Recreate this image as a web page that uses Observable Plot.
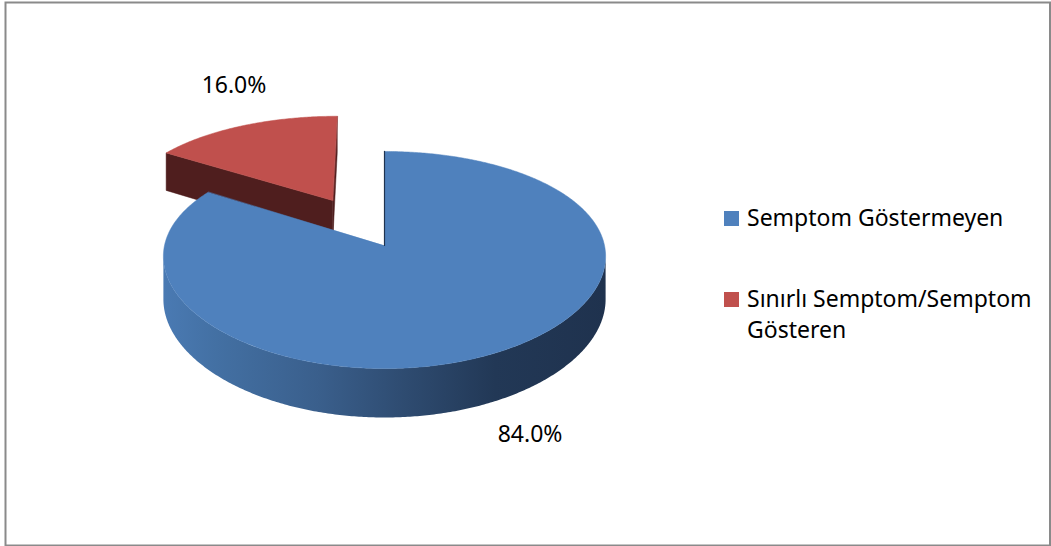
<!DOCTYPE html>
<html>
<head>
<meta charset="utf-8">
<script src="https://cdn.jsdelivr.net/npm/d3@7"></script>
<script src="https://cdn.jsdelivr.net/npm/@observablehq/plot@0.6"></script>
<style>
  body { margin: 0; background: #fff; font-family: "Noto Sans", sans-serif; }
  #wrap { position: relative; width: 1051px; height: 546px; }
  #legend { position: absolute; left: 724px; top: 202px; width: 310px; font-size: 23px; line-height: 31px; color: #000; }
  .item { display: flex; align-items: flex-start; }
  .item + .item { margin-top: 50px; }
  .sw { width: 15px; height: 15px; flex: none; margin-top: 9px; margin-right: 8px; }
</style>
</head>
<body>
<div id="wrap"></div>
<script>
// ---- data ----
const categories = ["Semptom Göstermeyen", "Sınırlı Semptom/Semptom Gösteren"];
const values = [84.0, 16.0];
const labels = values.map(v => v.toFixed(1) + "%");

// ---- styling / layout ----
const W = 1051, Hgt = 546;
const CX = 384, CY = 245, RX = 220, RY = 106.6;   // screen placement of the pie centre and radii
const K = 0.1336;      // perspective strength (vertical)
const KX = 0.1;        // perspective strength (horizontal)
const DEPTH = 0.398;   // pie thickness (model units)
const topColors = ["#4F81BD", "#C0504D"];
const faceColors = ["#1F3350", "#4F1E1E"];
const explode = [0, 0.51];
const LABEL_R = 1.54, LABEL_PULL = 0.75;

const proj = (u, v, z) => ({ px: u / (1 - KX * v), py: (v + z * DEPTH) / (1 - K * v) });

const arcs = d3.pie().sort(null).value(d => d)(values);
const slices = arcs.map((a, i) => {
  const mid = (a.startAngle + a.endAngle) / 2;
  const e = explode[i];
  return { ...a, i, mid, cu: e * Math.sin(mid), cv: -e * Math.cos(mid) };
});

const pt = (s, r, ang, z) => proj(s.cu + r * Math.sin(ang), s.cv - r * Math.cos(ang), z);
function arcPts(s, a0, a1, z) {
  const n = Math.max(2, Math.ceil(Math.abs(a1 - a0) / 0.01));
  return d3.range(n + 1).map(j => pt(s, 1, a0 + (a1 - a0) * j / n, z));
}
function area(poly) {
  let A = 0;
  for (let j = 0; j < poly.length; j++) {
    const p = poly[j], q = poly[(j + 1) % poly.length];
    A += p.px * q.py - q.px * p.py;
  }
  return A;
}

const marks = [];
// silhouette angles for the outer wall
const sil0 = Math.acos(-KX), sil1 = 2 * Math.PI - Math.acos(-KX);

const order = [...slices].sort((a, b) => a.cv - b.cv);
for (const s of order) {
  const c0 = pt(s, 0, 0, 0), c1 = pt(s, 0, 0, 1);
  // radial cut faces
  for (const [ang, sign] of [[s.startAngle, -1], [s.endAngle, 1]]) {
    const poly = [c0, pt(s, 1, ang, 0), pt(s, 1, ang, 1), c1];
    if (sign * area(poly) > 0) {
      marks.push(Plot.line(poly, { x: "px", y: "py", curve: "linear-closed", fill: faceColors[s.i], stroke: faceColors[s.i], strokeWidth: 0.5 }));
    }
  }
  // outer wall
  const a0 = Math.max(s.startAngle, sil0), a1 = Math.min(s.endAngle, sil1);
  if (a1 > a0) {
    const wall = [...arcPts(s, a0, a1, 0), ...arcPts(s, a0, a1, 1).reverse()];
    marks.push(Plot.line(wall, { x: "px", y: "py", curve: "linear-closed", fill: `url(#wallGrad${s.i})`, stroke: "none" }));
  }
  // top face
  const top = [c0, ...arcPts(s, s.startAngle, s.endAngle, 0)];
  marks.push(Plot.line(top, { x: "px", y: "py", curve: "linear-closed", fill: topColors[s.i], stroke: topColors[s.i], strokeWidth: 0.5 }));
}
// edge-on cut of the large slice
const big = slices[0];
marks.push(Plot.line([pt(big, 0, 0, 0), pt(big, 1, 0, 0)], { x: "px", y: "py", stroke: faceColors[0], strokeWidth: 1.2 }));

// data labels
const labelData = slices.map(s => {
  const vert = Math.round(s.mid / Math.PI) * Math.PI;
  const ang = vert + LABEL_PULL * (s.mid - vert);
  return { ...pt(s, LABEL_R, ang, 0), text: labels[s.i] };
});
marks.push(Plot.text(labelData, { x: "px", y: "py", text: "text", fontSize: 23, fontFamily: "Noto Sans", fill: "#000", textAnchor: "middle", lineAnchor: "middle" }));
marks.push(Plot.frame({ stroke: "#8a8a8a", strokeWidth: 2 }));

const chart = Plot.plot({
  width: W, height: Hgt,
  marginLeft: 5, marginTop: 2, marginRight: 1.5, marginBottom: 1,
  x: { axis: null, domain: [-CX / RX, (W - CX) / RX], range: [0, W] },
  y: { axis: null, domain: [-CY / RY, (Hgt - CY) / RY], range: [0, Hgt] },
  style: { background: "#fff", fontFamily: "Noto Sans" },
  marks
});

const defs = d3.select(chart).insert("defs", ":first-child");
const grad = defs.append("linearGradient").attr("id", "wallGrad0").attr("x1", 0).attr("x2", 1).attr("y1", 0).attr("y2", 0);
[[0, "#4a7ab3"], [0.12, "#4370a3"], [0.35, "#3a5f8c"], [0.55, "#2e4b70"], [0.75, "#223856"], [1, "#1f324e"]]
  .forEach(([o, c]) => grad.append("stop").attr("offset", o).attr("stop-color", c));
const grad1 = defs.append("linearGradient").attr("id", "wallGrad1");
grad1.append("stop").attr("offset", 0).attr("stop-color", faceColors[1]);

const wrap = document.getElementById("wrap");
wrap.appendChild(chart);

// legend
const legend = document.createElement("div");
legend.id = "legend";
categories.forEach((c, i) => {
  const item = document.createElement("div");
  item.className = "item";
  const sw = document.createElement("div");
  sw.className = "sw";
  sw.style.background = topColors[i];
  const t = document.createElement("div");
  t.textContent = c;
  item.appendChild(sw); item.appendChild(t);
  legend.appendChild(item);
});
wrap.appendChild(legend);
</script>
</body>
</html>
